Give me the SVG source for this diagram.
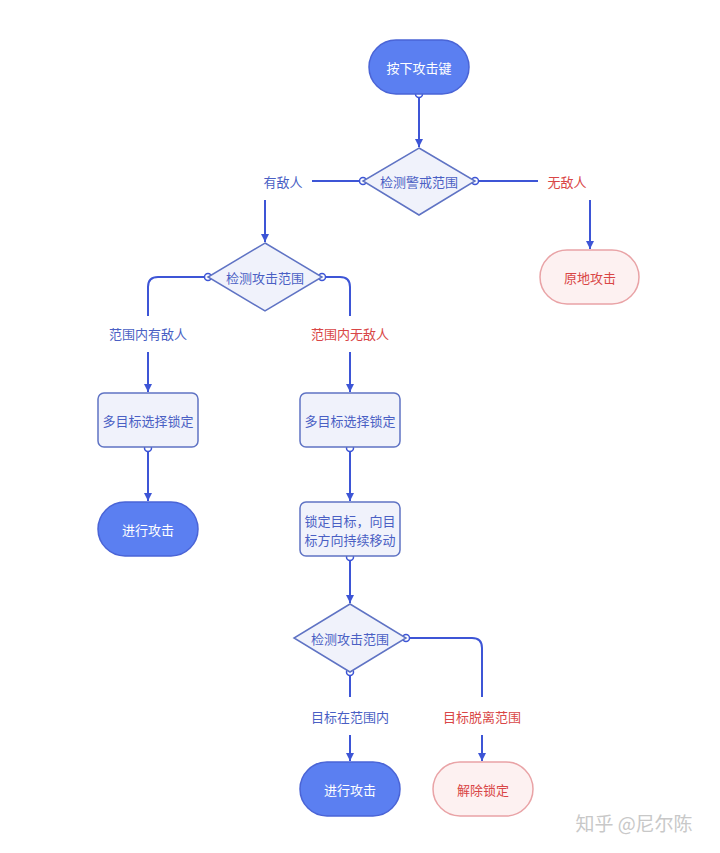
<svg xmlns="http://www.w3.org/2000/svg" width="720" height="853" viewBox="0 0 720 853">
<defs>
<marker id="arr" markerWidth="10" markerHeight="10" refX="9" refY="5" orient="auto" markerUnits="userSpaceOnUse">
<path d="M1,1 L9,5 L1,9 Z" fill="#3d55d6"/>
</marker>
<style>
text{font-family:"Noto Sans CJK SC","Noto Sans",sans-serif;font-size:13px;text-anchor:middle;dominant-baseline:central}
.pill{fill:#5b7ff1;stroke:#4a64d6;stroke-width:1.5}
.pt{fill:#ffffff}
.pink{fill:#fdf1f1;stroke:#e9a3a6;stroke-width:1.5}
.rt{fill:#d94646}
.box{fill:#f0f2fb;stroke:#5f73c4;stroke-width:1.5}
.bt{fill:#4a5fc4}
.ln{fill:none;stroke:#3d55d6;stroke-width:2}
.dot{fill:#ffffff;stroke:#3d55d6;stroke-width:1.5}
.lab{fill:#4a5fc4}
</style>
</defs>
<rect width="720" height="853" fill="#ffffff"/>
<g id="connectors">
<path class="ln" d="M419,94 V147" marker-end="url(#arr)"/>
<path class="ln" d="M363,181 H312"/>
<path class="ln" d="M265,200 V242" marker-end="url(#arr)"/>
<path class="ln" d="M475,181 H538"/>
<path class="ln" d="M590,200 V249" marker-end="url(#arr)"/>
<path class="ln" d="M208,277 H158 Q148,277 148,287 V316"/>
<path class="ln" d="M148,352 V392" marker-end="url(#arr)"/>
<path class="ln" d="M322,277 H340 Q350,277 350,287 V316"/>
<path class="ln" d="M350,352 V392" marker-end="url(#arr)"/>
<path class="ln" d="M148,448 V501" marker-end="url(#arr)"/>
<path class="ln" d="M350,448 V501" marker-end="url(#arr)"/>
<path class="ln" d="M350,557 V603" marker-end="url(#arr)"/>
<path class="ln" d="M406,638 H472 Q482,638 482,648 V697"/>
<path class="ln" d="M482,735 V761" marker-end="url(#arr)"/>
<path class="ln" d="M350,672 V697"/>
<path class="ln" d="M350,735 V761" marker-end="url(#arr)"/>
<circle class="dot" cx="419" cy="94" r="3.5"/>
<circle class="dot" cx="363" cy="181" r="3.5"/>
<circle class="dot" cx="475" cy="181" r="3.5"/>
<circle class="dot" cx="208" cy="277" r="3.5"/>
<circle class="dot" cx="322" cy="277" r="3.5"/>
<circle class="dot" cx="148" cy="448" r="3.5"/>
<circle class="dot" cx="350" cy="448" r="3.5"/>
<circle class="dot" cx="350" cy="557" r="3.5"/>
<circle class="dot" cx="406" cy="638" r="3.5"/>
<circle class="dot" cx="350" cy="672" r="3.5"/>
<text class="lab" x="283" y="181">有敌人</text>
<text class="rt" x="567" y="181">无敌人</text>
<text class="lab" x="148" y="333">范围内有敌人</text>
<text class="rt" x="350" y="333">范围内无敌人</text>
<text class="lab" x="350" y="716">目标在范围内</text>
<text class="rt" x="482" y="716">目标脱离范围</text>
</g>
<g id="start">
<rect class="pill" x="369" y="40" width="100" height="54" rx="27"/>
<text class="pt" x="419" y="67">按下攻击键</text>
</g>
<g id="check-alert">
<path class="box" d="M419,148 L475,181 L419,215 L363,181 Z"/>
<text class="bt" x="419" y="181">检测警戒范围</text>
</g>
<g id="attack-in-place">
<rect class="pink" x="540" y="250" width="99" height="54" rx="27"/>
<text class="rt" x="590" y="277">原地攻击</text>
</g>
<g id="check-range1">
<path class="box" d="M265,243 L322,277 L265,311 L208,277 Z"/>
<text class="bt" x="265" y="277">检测攻击范围</text>
</g>
<g id="select-left">
<rect class="box" x="98" y="393" width="100" height="54" rx="6"/>
<text class="bt" x="148" y="420">多目标选择锁定</text>
</g>
<g id="attack-left">
<rect class="pill" x="98" y="502" width="100" height="54" rx="27"/>
<text class="pt" x="148" y="529">进行攻击</text>
</g>
<g id="select-right">
<rect class="box" x="300" y="393" width="100" height="54" rx="6"/>
<text class="bt" x="350" y="420">多目标选择锁定</text>
</g>
<g id="lock-move">
<rect class="box" x="300" y="502" width="100" height="54" rx="6"/>
<text class="bt" x="350" y="520">锁定目标，向目</text>
<text class="bt" x="350" y="539">标方向持续移动</text>
</g>
<g id="check-range2">
<path class="box" d="M350,604 L406,638 L350,672 L294,638 Z"/>
<text class="bt" x="350" y="638">检测攻击范围</text>
</g>
<g id="attack-bottom">
<rect class="pill" x="300" y="762" width="100" height="54" rx="27"/>
<text class="pt" x="350" y="789">进行攻击</text>
</g>
<g id="unlock">
<rect class="pink" x="433" y="762" width="100" height="54" rx="27"/>
<text class="rt" x="483" y="789">解除锁定</text>
</g>
<text x="634" y="822" style="font-size:19px;fill:#c8c8c8">知乎 @尼尔陈</text>
</svg>
